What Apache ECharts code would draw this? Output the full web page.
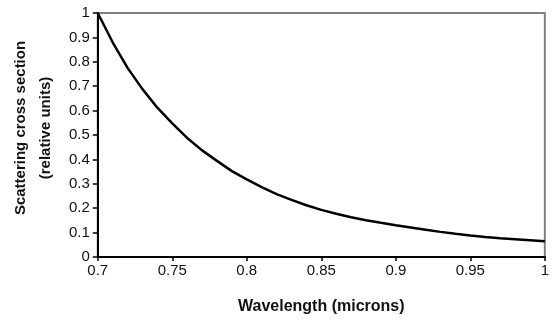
<!DOCTYPE html>
<html>
<head>
<meta charset="utf-8">
<script src="https://cdn.jsdelivr.net/npm/echarts@6/dist/echarts.min.js"></script>
<style>
  html, body { margin: 0; padding: 0; background: #fff; }
  #chart { width: 552px; height: 320px; }
</style>
</head>
<body>
<div id="chart"></div>
<script>
// wavelength in microns
const wavelengths = [
  0.70, 0.71, 0.72, 0.73, 0.74, 0.75, 0.76, 0.77, 0.78, 0.79, 0.80,
  0.81, 0.82, 0.83, 0.84, 0.85, 0.86, 0.87, 0.88, 0.89, 0.90,
  0.91, 0.92, 0.93, 0.94, 0.95, 0.96, 0.97, 0.98, 0.99, 1.00
];
// relative scattering cross section
const crossSection = [
  1.0, 0.88, 0.775, 0.688, 0.612, 0.548, 0.488, 0.437, 0.394, 0.352, 0.318,
  0.286, 0.258, 0.234, 0.212, 0.193, 0.177, 0.163, 0.151, 0.140, 0.130,
  0.121, 0.112, 0.103, 0.095, 0.088, 0.082, 0.077, 0.073, 0.069, 0.065
];

const points = wavelengths.map((w, i) => [w, crossSection[i]]);
const font = "Liberation Sans, Arial, sans-serif";

const chart = echarts.init(document.getElementById("chart"));
chart.setOption({
  animation: false,
  grid: {
    left: 95,
    right: 5,
    top: 13,
    bottom: 62,
    show: true,
    borderColor: "#808080",
    borderWidth: 2,
  },
  xAxis: {
    type: "value",
    min: 0.7,
    max: 1,
    interval: 0.05,
    name: "Wavelength (microns)",
    nameLocation: "middle",
    nameGap: 42,
    nameTextStyle: { fontFamily: font, fontWeight: "bold", fontSize: 16, color: "#111" },
    axisLine: { show: true, onZero: false, lineStyle: { color: "#000", width: 2 } },
    axisTick: { show: true, length: 4, lineStyle: { color: "#000", width: 1.5 } },
    axisLabel: { fontFamily: font, fontSize: 15, color: "#111", margin: 6 },
    splitLine: { show: false },
  },
  yAxis: {
    type: "value",
    min: 0,
    max: 1,
    interval: 0.1,
    name: "Scattering cross section\n(relative units)",
    nameLocation: "middle",
    nameGap: 38,
    nameRotate: 90,
    nameTextStyle: {
      fontFamily: font, fontWeight: "bold", fontSize: 15, color: "#111",
      lineHeight: 25, padding: [0, 0, 0, 14],
    },
    axisLine: { show: true, lineStyle: { color: "#000", width: 2 } },
    axisTick: { show: true, length: 5, lineStyle: { color: "#000", width: 1.5 } },
    axisLabel: { fontFamily: font, fontSize: 15, color: "#111", margin: 8 },
    splitLine: { show: false },
  },
  series: [
    {
      type: "line",
      data: points,
      showSymbol: false,
      lineStyle: { color: "#000", width: 2.5 },
    },
  ],
});
</script>
</body>
</html>
